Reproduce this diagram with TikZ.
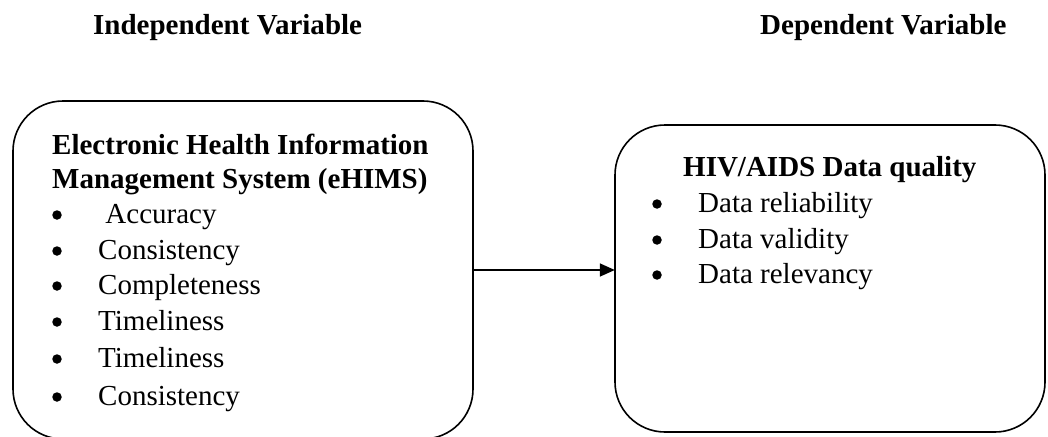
\documentclass[tikz,border=0pt]{standalone}
\usepackage{fontspec}
\setmainfont{Liberation Serif}
\usetikzlibrary{arrows.meta}
\begin{document}
\begin{tikzpicture}[x=1pt,y=-1pt,
  box/.style={draw,line width=1.6pt,rounded corners=50pt},
  txt/.style={inner sep=0pt,anchor=base west,font=\fontsize{29}{34}\selectfont},
  btxt/.style={txt,font=\fontsize{29}{34}\selectfont\bfseries},
  bul/.style={circle,fill,inner sep=0pt,minimum size=9.5pt},
  arr/.style={line width=1.6pt,-{Triangle[length=15pt,width=13pt]}}]
\useasboundingbox (0,0) rectangle (1048,436);
% titles
\node[btxt] (t1) at (93,35) {Independent Variable};
\node[btxt] (t2) at (760,35) {Dependent Variable};
% boxes
\begin{scope}
\clip (0,0) rectangle (1048,436);
\draw[box] (13,101) rectangle (473,439);
\end{scope}
\node[inner sep=0pt,minimum width=460pt,minimum height=338pt] (leftbox) at (243,270) {};
\draw[box] (615,125) rectangle (1045,432);
\node[inner sep=0pt,minimum width=430pt,minimum height=307pt] (rightbox) at (830,278.5) {};
% left text
\node[btxt] (lh1) at (52,154) {Electronic Health Information};
\node[btxt] (lh2) at (52,188) {Management System (eHIMS)};
\foreach \y/\t [count=\i] in {223/{\ Accuracy},259/Consistency,294/Completeness,330/Timeliness,367/Timeliness,405/Consistency}{
  \node[bul] (lb\i) at (57,\y-8) {};
  \node[txt] (li\i) at (98,\y) {\t};
}
% right text
\node[btxt] (rh) at (683,176) {HIV/AIDS Data quality};
\foreach \y/\t [count=\i] in {212/Data reliability,248/Data validity,283/Data relevancy}{
  \node[bul] (rb\i) at (657,\y-8) {};
  \node[txt] (ri\i) at (698,\y) {\t};
}
% arrow
\coordinate (ay) at (0,270);
\draw[arr] (leftbox.east |- ay) -- (rightbox.west |- ay);
\end{tikzpicture}
\end{document}
